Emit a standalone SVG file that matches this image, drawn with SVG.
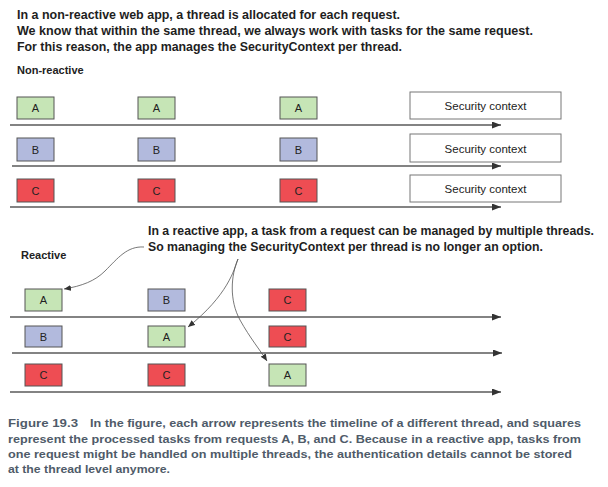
<svg xmlns="http://www.w3.org/2000/svg" width="608" height="487" viewBox="0 0 608 487">
<defs>
<style>
.head{font-family:"Liberation Sans",Arial,sans-serif;font-weight:bold;font-size:13px;fill:#1e1e1e}
.note{font-size:12.2px}
.lbl{font-family:"Liberation Sans",Arial,sans-serif;font-weight:bold;font-size:11px;fill:#222}
.cap{font-family:"Liberation Sans",Arial,sans-serif;font-weight:bold;font-size:11px;fill:#4f5b69}
.t{font-family:"Liberation Sans",Arial,sans-serif;font-size:11px;fill:#222;text-anchor:middle}
.sc{font-family:"Liberation Sans",Arial,sans-serif;font-size:11.5px;fill:#222;text-anchor:middle}
.a{fill:#c6e5b6;stroke:#555;stroke-width:1}
.b{fill:#b2badd;stroke:#555;stroke-width:1}
.c{fill:#ee4d53;stroke:#555;stroke-width:1}
.ctx{fill:#fff;stroke:#777;stroke-width:1}
.tl{stroke:#5a5a5a;stroke-width:1.5;fill:none;marker-end:url(#ah)}
.cv{stroke:#555;stroke-width:0.8;fill:none;marker-end:url(#sh)}
</style>
<marker id="ah" markerUnits="userSpaceOnUse" markerWidth="10" markerHeight="8" refX="9" refY="3.5" orient="auto">
<path d="M0,0 L9,3.5 L0,7 z" fill="#333"/>
</marker>
<marker id="sh" markerUnits="userSpaceOnUse" markerWidth="8" markerHeight="7" refX="7" refY="3" orient="auto">
<path d="M0,0 L7,3 L0,6 z" fill="#333"/>
</marker>
</defs>
<rect width="608" height="487" fill="#fff"/>

<g id="title">
<text class="head" x="17" y="19" textLength="383" lengthAdjust="spacingAndGlyphs">In a non-reactive web app, a thread is allocated for each request.</text>
<text class="head" x="17" y="35" textLength="516" lengthAdjust="spacingAndGlyphs">We know that within the same thread, we always work with tasks for the same request.</text>
<text class="head" x="17" y="51" textLength="385" lengthAdjust="spacingAndGlyphs">For this reason, the app manages the SecurityContext per thread.</text>
</g>
<text class="lbl" x="17" y="74">Non-reactive</text>

<g id="connectors">
<line class="tl" x1="10" y1="125" x2="501" y2="125"/>
<line class="tl" x1="12" y1="166" x2="501" y2="166"/>
<line class="tl" x1="10" y1="207" x2="501" y2="207"/>
<line class="tl" x1="10" y1="317" x2="501" y2="317"/>
<line class="tl" x1="12" y1="353" x2="502" y2="353"/>
<line class="tl" x1="10" y1="392" x2="501" y2="392"/>
<path class="cv" d="M144,247 C127,246 118,258 105,271 C95,281 82,286 64,289"/>
<path class="cv" d="M238,259 C234,270 228,295 188,327"/>
<path class="cv" d="M238,259 C231,275 229,300 240,320 C250,338 260,350 267,361"/>
</g>

<g id="nr-a1"><rect class="a" x="17" y="97" width="37" height="22"/><text class="t" x="35.5" y="112">A</text></g>
<g id="nr-a2"><rect class="a" x="138" y="97" width="37" height="22"/><text class="t" x="156.5" y="112">A</text></g>
<g id="nr-a3"><rect class="a" x="280" y="97" width="37" height="22"/><text class="t" x="298.5" y="112">A</text></g>
<g id="nr-b1"><rect class="b" x="17" y="138" width="37" height="23"/><text class="t" x="35.5" y="153.5">B</text></g>
<g id="nr-b2"><rect class="b" x="138" y="138" width="37" height="23"/><text class="t" x="156.5" y="153.5">B</text></g>
<g id="nr-b3"><rect class="b" x="280" y="138" width="37" height="23"/><text class="t" x="298.5" y="153.5">B</text></g>
<g id="nr-c1"><rect class="c" x="17" y="179" width="37" height="23"/><text class="t" x="35.5" y="194.5">C</text></g>
<g id="nr-c2"><rect class="c" x="138" y="179" width="37" height="23"/><text class="t" x="156.5" y="194.5">C</text></g>
<g id="nr-c3"><rect class="c" x="280" y="179" width="37" height="23"/><text class="t" x="298.5" y="194.5">C</text></g>

<g id="ctx-a"><rect class="ctx" x="410" y="92" width="151" height="27"/><text class="sc" x="485.5" y="110">Security context</text></g>
<g id="ctx-b"><rect class="ctx" x="410" y="134" width="151" height="28"/><text class="sc" x="485.5" y="152.5">Security context</text></g>
<g id="ctx-c"><rect class="ctx" x="410" y="175" width="151" height="27"/><text class="sc" x="485.5" y="193">Security context</text></g>

<g id="note">
<text class="head note" x="148" y="235" textLength="446" lengthAdjust="spacingAndGlyphs">In a reactive app, a task from a request can be managed by multiple threads.</text>
<text class="head note" x="148" y="251" textLength="395" lengthAdjust="spacingAndGlyphs">So managing the SecurityContext per thread is no longer an option.</text>
</g>
<text class="lbl" x="21" y="259">Reactive</text>

<g id="r-a1"><rect class="a" x="25" y="289" width="37" height="22"/><text class="t" x="43.5" y="304">A</text></g>
<g id="r-b1"><rect class="b" x="148" y="289" width="37" height="22"/><text class="t" x="166.5" y="304">B</text></g>
<g id="r-c1"><rect class="c" x="269" y="289" width="37" height="22"/><text class="t" x="287.5" y="304">C</text></g>
<g id="r-b2"><rect class="b" x="25" y="326" width="37" height="21"/><text class="t" x="43.5" y="340.5">B</text></g>
<g id="r-a2"><rect class="a" x="148" y="326" width="37" height="21"/><text class="t" x="166.5" y="340.5">A</text></g>
<g id="r-c2"><rect class="c" x="269" y="326" width="37" height="21"/><text class="t" x="287.5" y="340.5">C</text></g>
<g id="r-c3"><rect class="c" x="25" y="364" width="37" height="22"/><text class="t" x="43.5" y="379">C</text></g>
<g id="r-c4"><rect class="c" x="148" y="364" width="37" height="22"/><text class="t" x="166.5" y="379">C</text></g>
<g id="r-a3"><rect class="a" x="269" y="364" width="37" height="22"/><text class="t" x="287.5" y="379">A</text></g>

<g id="caption">
<text class="cap" x="8" y="427" textLength="70" lengthAdjust="spacingAndGlyphs">Figure 19.3</text>
<text class="cap" x="90" y="427" textLength="491" lengthAdjust="spacingAndGlyphs">In the figure, each arrow represents the timeline of a different thread, and squares</text>
<text class="cap" x="8" y="443" textLength="573" lengthAdjust="spacingAndGlyphs">represent the processed tasks from requests A, B, and C. Because in a reactive app, tasks from</text>
<text class="cap" x="8" y="458" textLength="564" lengthAdjust="spacingAndGlyphs">one request might be handled on multiple threads, the authentication details cannot be stored</text>
<text class="cap" x="8" y="473" textLength="162" lengthAdjust="spacingAndGlyphs">at the thread level anymore.</text>
</g>
</svg>
